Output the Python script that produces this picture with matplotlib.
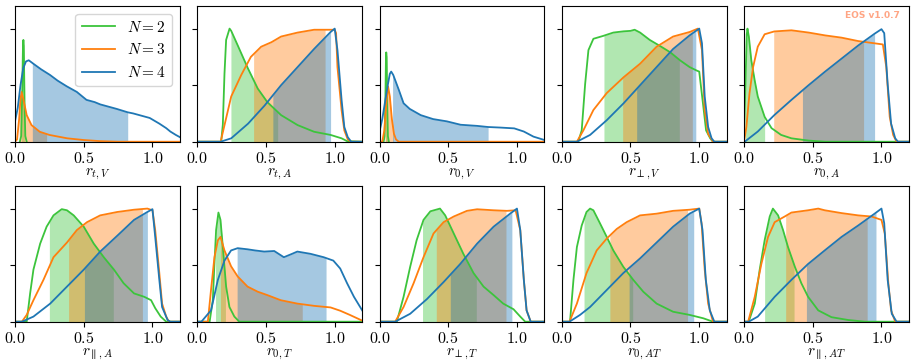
import numpy as np
import matplotlib
matplotlib.use("Agg")
import matplotlib.pyplot as plt

plt.rcParams['mathtext.fontset'] = 'cm'
plt.rcParams['font.size'] = 11

# ---------------- data ----------------
series_labels = [r'$N=2$', r'$N=3$', r'$N=4$']
series_colors = ['#3cc43c', '#ff7f0e', '#1f77b4']

xlabels = [r'$r_{t,V}$', r'$r_{t,A}$', r'$r_{0,V}$', r'$r_{\perp,V}$', r'$r_{0,A}$',
           r'$r_{\parallel,A}$', r'$r_{0,T}$', r'$r_{\perp,T}$', r'$r_{0,AT}$', r'$r_{\parallel,AT}$']

xtick_values = [0.0, 0.5, 1.0]
xtick_labels = [r'$0.0$', r'$0.5$', r'$1.0$']
ytick_values = [0.0, 0.5, 1.0]

# panel 1: r_{t,V}
p1_n2_x = [0.035, 0.045, 0.052, 0.058, 0.061, 0.064, 0.070, 0.075, 0.085]
p1_n2_y = [0.0, 0.05, 0.40, 0.85, 0.90, 0.85, 0.30, 0.05, 0.0]
p1_n3_x = [0.0, 0.015, 0.030, 0.040, 0.048, 0.060, 0.085, 0.12, 0.18, 0.25, 0.38, 0.50, 0.62, 0.75, 1.2]
p1_n3_y = [0.0, 0.02, 0.20, 0.38, 0.44, 0.38, 0.235, 0.147, 0.088, 0.06, 0.03, 0.015, 0.005, 0.0, 0.0]
p1_n4_x = [0.0, 0.02, 0.04, 0.06, 0.08, 0.10, 0.133, 0.19, 0.255, 0.31, 0.376, 0.45, 0.52, 0.58, 0.62, 0.68, 0.74, 0.82, 0.86, 0.92, 0.98, 1.05, 1.10, 1.13, 1.17, 1.2]
p1_n4_y = [0.18, 0.30, 0.50, 0.65, 0.71, 0.72, 0.69, 0.64, 0.59, 0.54, 0.49, 0.44, 0.37, 0.35, 0.33, 0.31, 0.29, 0.26, 0.25, 0.23, 0.21, 0.16, 0.12, 0.09, 0.06, 0.04]
p1_int = [(0.048, 0.068), (0.03, 0.23), (0.126, 0.82)]

# panel 2: r_{t,A}
p2_n2_x = [0.0, 0.174, 0.186, 0.198, 0.21, 0.235, 0.247, 0.295, 0.368, 0.44, 0.51, 0.61, 0.73, 0.85, 0.97, 1.05, 1.09, 1.2]
p2_n2_y = [0.0, 0.0, 0.15, 0.60, 0.90, 1.0, 0.98, 0.85, 0.65, 0.47, 0.35, 0.235, 0.147, 0.088, 0.06, 0.03, 0.005, 0.0]
p2_n3_x = [0.0, 0.17, 0.247, 0.32, 0.39, 0.465, 0.54, 0.61, 0.73, 0.85, 0.925, 1.0, 1.01, 1.02, 1.05, 1.07, 1.095, 1.12, 1.2]
p2_n3_y = [0.0, 0.0, 0.40, 0.59, 0.75, 0.84, 0.88, 0.93, 0.965, 0.99, 0.99, 0.99, 0.96, 0.66, 0.28, 0.10, 0.02, 0.0, 0.0]
p2_n4_x = [0.0, 0.17, 0.247, 0.37, 0.49, 0.61, 0.73, 0.85, 0.97, 1.0, 1.02, 1.05, 1.07, 1.095, 1.12, 1.2]
p2_n4_y = [0.0, 0.0, 0.03, 0.16, 0.32, 0.50, 0.66, 0.82, 0.97, 1.0, 0.81, 0.37, 0.13, 0.04, 0.0, 0.0]
p2_int = [(0.245, 0.585), (0.41, 0.93), (0.55, 0.97)]

# panel 3: r_{0,V}
p3_n2_x = [0.030, 0.037, 0.043, 0.047, 0.049, 0.052, 0.056, 0.061, 0.068]
p3_n2_y = [0.0, 0.05, 0.40, 0.75, 0.79, 0.75, 0.35, 0.05, 0.0]
p3_n3_x = [0.0, 0.02, 0.035, 0.05, 0.062, 0.075, 0.09, 0.105, 0.12, 0.14, 1.2]
p3_n3_y = [0.0, 0.0, 0.10, 0.35, 0.49, 0.40, 0.20, 0.07, 0.02, 0.0, 0.0]
p3_n4_x = [0.0, 0.02, 0.04, 0.06, 0.075, 0.085, 0.10, 0.14, 0.175, 0.22, 0.30, 0.39, 0.49, 0.59, 0.71, 0.79, 0.88, 0.98, 1.05, 1.12, 1.2]
p3_n4_y = [0.09, 0.20, 0.35, 0.50, 0.60, 0.62, 0.59, 0.46, 0.34, 0.29, 0.235, 0.20, 0.18, 0.15, 0.14, 0.13, 0.125, 0.118, 0.09, 0.045, 0.015]
p3_int = [(0.042, 0.058), (0.04, 0.10), (0.095, 0.79)]

# panel 4: r_{perp,V}
p4_n2_x = [0.0, 0.12, 0.145, 0.17, 0.194, 0.23, 0.30, 0.375, 0.45, 0.50, 0.53, 0.57, 0.64, 0.71, 0.79, 0.86, 0.93, 0.98, 1.0, 1.03, 1.05, 1.08, 1.10, 1.2]
p4_n2_y = [0.0, 0.0, 0.10, 0.51, 0.81, 0.91, 0.935, 0.965, 0.976, 0.98, 0.99, 0.965, 0.90, 0.85, 0.79, 0.72, 0.66, 0.63, 0.62, 0.31, 0.10, 0.03, 0.0, 0.0]
p4_n3_x = [0.0, 0.11, 0.157, 0.23, 0.327, 0.45, 0.57, 0.69, 0.81, 0.93, 0.99, 1.02, 1.04, 1.065, 1.10, 1.2]
p4_n3_y = [0.0, 0.0, 0.10, 0.28, 0.43, 0.57, 0.69, 0.84, 0.93, 0.97, 1.0, 0.81, 0.28, 0.07, 0.0, 0.0]
p4_n4_x = [0.0, 0.11, 0.206, 0.327, 0.45, 0.57, 0.69, 0.81, 0.93, 1.0, 1.02, 1.04, 1.065, 1.09, 1.11, 1.2]
p4_n4_y = [0.0, 0.0, 0.06, 0.19, 0.34, 0.50, 0.66, 0.82, 0.94, 1.0, 0.87, 0.40, 0.13, 0.03, 0.0, 0.0]
p4_int = [(0.307, 0.855), (0.443, 0.95), (0.545, 0.975)]

# panel 5: r_{0,A}
p5_n2_x = [0.0, 0.01, 0.02, 0.025, 0.035, 0.053, 0.078, 0.10, 0.15, 0.20, 0.27, 0.345, 0.47, 0.59, 1.2]
p5_n2_y = [0.0, 0.50, 0.95, 1.0, 0.93, 0.72, 0.54, 0.40, 0.22, 0.12, 0.06, 0.03, 0.01, 0.0, 0.0]
p5_n3_x = [0.0, 0.017, 0.04, 0.066, 0.10, 0.15, 0.22, 0.345, 0.47, 0.59, 0.71, 0.83, 0.95, 1.01, 1.035, 1.06, 1.085, 1.11, 1.2]
p5_n3_y = [0.0, 0.13, 0.43, 0.66, 0.84, 0.95, 0.975, 0.985, 0.965, 0.94, 0.92, 0.89, 0.87, 0.86, 0.66, 0.22, 0.06, 0.0, 0.0]
p5_n4_x = [0.0, 0.005, 0.10, 0.22, 0.345, 0.47, 0.59, 0.71, 0.83, 0.95, 1.0, 1.02, 1.045, 1.07, 1.10, 1.12, 1.2]
p5_n4_y = [0.0, 0.0, 0.09, 0.235, 0.37, 0.50, 0.62, 0.735, 0.85, 0.955, 0.995, 0.96, 0.51, 0.16, 0.03, 0.0, 0.0]
p5_int = [(0.01, 0.15), (0.216, 0.87), (0.425, 0.95)]

# panel 6: r_{par,A}
p6_n2_x = [0.0, 0.085, 0.11, 0.134, 0.183, 0.23, 0.28, 0.34, 0.378, 0.427, 0.50, 0.573, 0.646, 0.72, 0.79, 0.866, 0.94, 0.99, 1.02, 1.06, 1.10, 1.2]
p6_n2_y = [0.0, 0.0, 0.25, 0.46, 0.69, 0.84, 0.94, 0.995, 0.985, 0.94, 0.84, 0.69, 0.57, 0.46, 0.34, 0.25, 0.22, 0.19, 0.12, 0.045, 0.0, 0.0]
p6_n3_x = [0.0, 0.05, 0.085, 0.134, 0.207, 0.28, 0.378, 0.45, 0.524, 0.62, 0.744, 0.866, 0.963, 1.0, 1.02, 1.05, 1.07, 1.10, 1.12, 1.2]
p6_n3_y = [0.0, 0.0, 0.06, 0.19, 0.37, 0.57, 0.70, 0.81, 0.88, 0.94, 0.97, 0.99, 1.0, 0.985, 0.81, 0.43, 0.16, 0.045, 0.0, 0.0]
p6_n4_x = [0.0, 0.05, 0.134, 0.256, 0.378, 0.50, 0.62, 0.744, 0.866, 0.963, 1.0, 1.02, 1.05, 1.07, 1.11, 1.13, 1.2]
p6_n4_y = [0.0, 0.0, 0.045, 0.16, 0.31, 0.46, 0.62, 0.76, 0.90, 0.97, 0.995, 0.75, 0.37, 0.13, 0.015, 0.0, 0.0]
p6_int = [(0.25, 0.715), (0.39, 0.927), (0.505, 0.963)]

# panel 7: r_{0,T}
p7_n2_x = [0.0, 0.09, 0.113, 0.125, 0.137, 0.154, 0.169, 0.186, 0.21, 0.234, 0.27, 0.306, 1.2]
p7_n2_y = [0.0, 0.0, 0.19, 0.51, 0.81, 0.965, 0.90, 0.66, 0.31, 0.13, 0.045, 0.0, 0.0]
p7_n3_x = [0.0, 0.077, 0.10, 0.125, 0.15, 0.169, 0.198, 0.246, 0.294, 0.366, 0.44, 0.51, 0.607, 0.728, 0.85, 0.97, 1.04, 1.11, 1.19, 1.2]
p7_n3_y = [0.0, 0.0, 0.28, 0.57, 0.72, 0.75, 0.63, 0.49, 0.40, 0.31, 0.265, 0.235, 0.19, 0.16, 0.14, 0.126, 0.097, 0.06, 0.015, 0.01]
p7_n4_x = [0.0, 0.03, 0.10, 0.15, 0.198, 0.246, 0.294, 0.366, 0.42, 0.487, 0.56, 0.63, 0.69, 0.728, 0.824, 0.92, 0.99, 1.04, 1.09, 1.14, 1.2]
p7_n4_y = [0.0, 0.0, 0.10, 0.37, 0.54, 0.63, 0.65, 0.64, 0.63, 0.62, 0.625, 0.57, 0.60, 0.62, 0.60, 0.57, 0.54, 0.47, 0.34, 0.22, 0.10]
p7_int = [(0.133, 0.205), (0.169, 0.764), (0.29, 0.937)]

# panel 8: r_{perp,T}
p8_n2_x = [0.0, 0.126, 0.175, 0.223, 0.27, 0.32, 0.37, 0.44, 0.478, 0.54, 0.61, 0.684, 0.757, 0.83, 0.90, 0.975, 1.024, 1.06, 1.2]
p8_n2_y = [0.0, 0.0, 0.22, 0.485, 0.72, 0.90, 0.976, 1.0, 0.94, 0.78, 0.60, 0.43, 0.31, 0.235, 0.16, 0.11, 0.045, 0.0, 0.0]
p8_n3_x = [0.0, 0.114, 0.175, 0.248, 0.32, 0.393, 0.466, 0.54, 0.636, 0.71, 0.83, 0.927, 0.99, 1.024, 1.05, 1.07, 1.10, 1.2]
p8_n3_y = [0.0, 0.0, 0.13, 0.34, 0.57, 0.78, 0.88, 0.93, 0.98, 0.994, 0.985, 0.98, 0.985, 0.81, 0.37, 0.10, 0.0, 0.0]
p8_n4_x = [0.0, 0.114, 0.223, 0.345, 0.466, 0.587, 0.71, 0.83, 0.95, 1.0, 1.024, 1.05, 1.07, 1.10, 1.2]
p8_n4_y = [0.0, 0.0, 0.07, 0.20, 0.35, 0.51, 0.69, 0.84, 0.955, 1.0, 0.81, 0.37, 0.10, 0.0, 0.0]
p8_int = [(0.313, 0.704), (0.413, 0.92), (0.515, 0.963)]

# panel 9: r_{0,AT}
p9_n2_x = [0.0, 0.06, 0.085, 0.11, 0.145, 0.18, 0.206, 0.23, 0.278, 0.327, 0.375, 0.448, 0.52, 0.593, 0.69, 0.81, 0.93, 1.03, 1.10, 1.2]
p9_n2_y = [0.0, 0.0, 0.37, 0.66, 0.85, 0.97, 1.0, 0.985, 0.87, 0.75, 0.63, 0.485, 0.37, 0.265, 0.16, 0.088, 0.06, 0.03, 0.0, 0.0]
p9_n3_x = [0.0, 0.056, 0.11, 0.18, 0.254, 0.327, 0.40, 0.472, 0.57, 0.69, 0.81, 0.93, 1.0, 1.017, 1.04, 1.065, 1.10, 1.2]
p9_n3_y = [0.0, 0.0, 0.16, 0.43, 0.63, 0.735, 0.82, 0.88, 0.94, 0.955, 0.98, 0.99, 1.0, 0.87, 0.46, 0.16, 0.0, 0.0]
p9_n4_x = [0.0, 0.056, 0.133, 0.206, 0.327, 0.448, 0.57, 0.69, 0.81, 0.93, 1.0, 1.024, 1.048, 1.077, 1.11, 1.2]
p9_n4_y = [0.0, 0.0, 0.06, 0.13, 0.28, 0.43, 0.56, 0.70, 0.84, 0.955, 1.0, 0.81, 0.37, 0.10, 0.0, 0.0]
p9_int = [(0.162, 0.516), (0.35, 0.915), (0.49, 0.96)]

# panel 10: r_{par,AT}
p10_n2_x = [0.0, 0.034, 0.078, 0.114, 0.15, 0.187, 0.21, 0.248, 0.284, 0.32, 0.37, 0.417, 0.466, 0.54, 0.636, 0.757, 0.88, 1.2]
p10_n2_y = [0.0, 0.0, 0.16, 0.46, 0.72, 0.93, 1.0, 0.94, 0.81, 0.66, 0.485, 0.34, 0.22, 0.10, 0.04, 0.015, 0.0, 0.0]
p10_n3_x = [0.0, 0.03, 0.078, 0.126, 0.175, 0.223, 0.296, 0.345, 0.466, 0.54, 0.587, 0.71, 0.83, 0.927, 1.0, 1.024, 1.05, 1.07, 1.10, 1.2]
p10_n3_y = [0.0, 0.0, 0.22, 0.51, 0.75, 0.88, 0.93, 0.965, 0.985, 1.0, 0.985, 0.96, 0.94, 0.93, 0.90, 0.78, 0.34, 0.10, 0.0, 0.0]
p10_n4_x = [0.0, 0.034, 0.10, 0.223, 0.345, 0.466, 0.587, 0.71, 0.83, 0.95, 1.0, 1.02, 1.045, 1.075, 1.11, 1.2]
p10_n4_y = [0.0, 0.0, 0.045, 0.22, 0.37, 0.51, 0.63, 0.75, 0.85, 0.955, 1.0, 0.87, 0.37, 0.07, 0.0, 0.0]
p10_int = [(0.15, 0.364), (0.303, 0.896), (0.454, 0.96)]

panels = [
    ([(p1_n2_x, p1_n2_y), (p1_n3_x, p1_n3_y), (p1_n4_x, p1_n4_y)], p1_int),
    ([(p2_n2_x, p2_n2_y), (p2_n3_x, p2_n3_y), (p2_n4_x, p2_n4_y)], p2_int),
    ([(p3_n2_x, p3_n2_y), (p3_n3_x, p3_n3_y), (p3_n4_x, p3_n4_y)], p3_int),
    ([(p4_n2_x, p4_n2_y), (p4_n3_x, p4_n3_y), (p4_n4_x, p4_n4_y)], p4_int),
    ([(p5_n2_x, p5_n2_y), (p5_n3_x, p5_n3_y), (p5_n4_x, p5_n4_y)], p5_int),
    ([(p6_n2_x, p6_n2_y), (p6_n3_x, p6_n3_y), (p6_n4_x, p6_n4_y)], p6_int),
    ([(p7_n2_x, p7_n2_y), (p7_n3_x, p7_n3_y), (p7_n4_x, p7_n4_y)], p7_int),
    ([(p8_n2_x, p8_n2_y), (p8_n3_x, p8_n3_y), (p8_n4_x, p8_n4_y)], p8_int),
    ([(p9_n2_x, p9_n2_y), (p9_n3_x, p9_n3_y), (p9_n4_x, p9_n4_y)], p9_int),
    ([(p10_n2_x, p10_n2_y), (p10_n3_x, p10_n3_y), (p10_n4_x, p10_n4_y)], p10_int),
]

# ---------------- plotting ----------------
fig, axes = plt.subplots(2, 5, figsize=(9.15, 3.63), dpi=100)
fig.subplots_adjust(left=0.0164, right=0.9934, top=0.9835, bottom=0.1138,
                    wspace=0.105, hspace=0.326)

for idx, (ax, (curves, intervals)) in enumerate(zip(axes.flat, panels)):
    # shaded intervals
    for (cx, cy), (lo, hi), col in zip(curves, intervals, series_colors):
        cx = np.asarray(cx); cy = np.asarray(cy)
        inner = cx[(cx > lo) & (cx < hi)]
        xs = np.concatenate([[lo], inner, [hi]])
        ys = np.interp(xs, cx, cy)
        ax.fill_between(xs, 0, ys, color=col, alpha=0.4, lw=0)
    # lines
    for (cx, cy), col, lab in zip(curves, series_colors, series_labels):
        ax.plot(cx, cy, color=col, lw=1.3, label=lab)
    ax.set_xlim(0, 1.2)
    ax.set_ylim(0, 1.2)
    ax.set_xticks(xtick_values)
    ax.set_xticklabels(xtick_labels, fontsize=11.5)
    ax.set_yticks(ytick_values)
    ax.set_yticklabels([])
    ax.set_xlabel(xlabels[idx], fontsize=11, labelpad=0)
    if idx == 0:
        ax.legend(loc='upper right', fontsize=11, handlelength=2.2)
    if idx == 4:
        ax.text(0.945, 0.963, 'EOS v1.0.7', transform=ax.transAxes, ha='right', va='top',
                fontsize=6.5, fontweight='bold', color='#ff6a33', alpha=0.6,
                family='DejaVu Sans')

fig.savefig('out.png', dpi=100)
